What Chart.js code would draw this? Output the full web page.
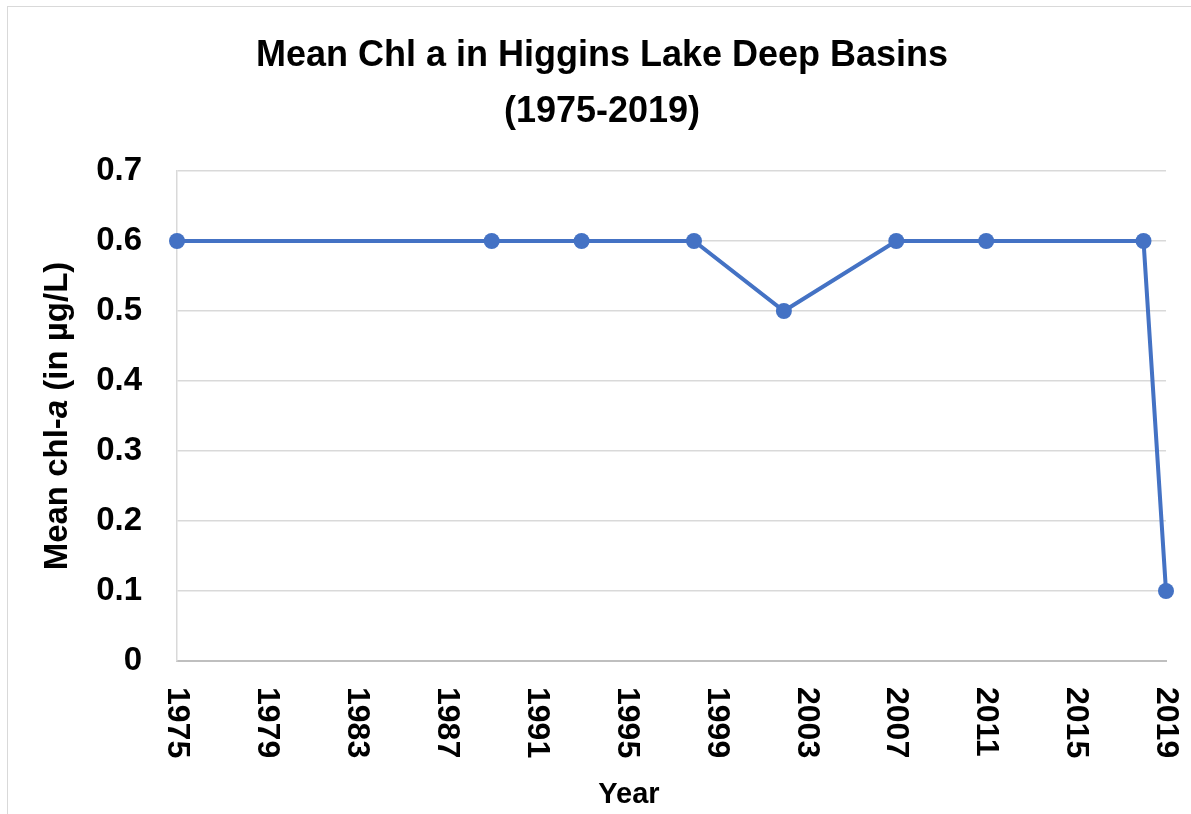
<!DOCTYPE html>
<html>
<head>
<meta charset="utf-8">
<title>Mean Chl a in Higgins Lake Deep Basins</title>
<script src="https://cdn.jsdelivr.net/npm/chart.js@4.4.1/dist/chart.umd.min.js"></script>
<style>
  html, body { margin: 0; padding: 0; background: #fff; overflow: hidden; }
  #frame {
    position: absolute; left: 7px; top: 6px;
    border-left: 1px solid #d9d9d9; border-top: 1px solid #d9d9d9;
  }
  canvas { display: block; }
</style>
</head>
<body>
<div id="frame"><canvas id="chlChart" width="1188" height="810"></canvas></div>
<script>
// sampling years and mean chl-a (ug/L)
const years = [1975, 1989, 1993, 1998, 2002, 2007, 2011, 2018, 2019];
const chla = [0.6, 0.6, 0.6, 0.6, 0.5, 0.6, 0.6, 0.6, 0.1];

const titleLines = ["Mean Chl a in Higgins Lake Deep Basins", "(1975-2019)"];
const xTitle = "Year";
// y title has an italic "a", so it is kept in pieces
const yTitleParts = [
  { text: "Mean chl-", italic: false },
  { text: "a", italic: true },
  { text: " (in \u00b5g/L)", italic: false },
];

const FONT = "'Liberation Sans', Arial, sans-serif";
const BLUE = "#4472C4";
const GRID = "#d9d9d9";

// Excel style: x tick labels read top to bottom, plus the two axis titles
const axisText = {
  id: "axisText",
  afterDraw(chart) {
    const ctx = chart.ctx;
    const area = chart.chartArea;
    const xs = chart.scales.x;

    ctx.save();
    ctx.fillStyle = "#000";
    ctx.font = "bold 32px " + FONT;
    ctx.textAlign = "left";
    ctx.textBaseline = "middle";
    xs.ticks.forEach((t) => {
      const px = xs.getPixelForValue(t.value);
      ctx.save();
      ctx.translate(px, area.bottom + 26);
      ctx.rotate(Math.PI / 2);
      ctx.fillText(String(t.value), 0, 0);
      ctx.restore();
    });

    // x title
    ctx.font = "bold 29px " + FONT;
    ctx.textAlign = "center";
    ctx.textBaseline = "alphabetic";
    ctx.fillText(xTitle, 621, 796);

    // y title, rotated, centred on the plot area
    const fonts = yTitleParts.map((p) => (p.italic ? "italic bold 33px " : "bold 33px ") + FONT);
    let total = 0;
    const widths = yTitleParts.map((p, i) => {
      ctx.font = fonts[i];
      const w = ctx.measureText(p.text).width;
      total += w;
      return w;
    });
    ctx.translate(58.5, (area.top + area.bottom) / 2);
    ctx.rotate(-Math.PI / 2);
    ctx.textAlign = "left";
    let x = -total / 2;
    yTitleParts.forEach((p, i) => {
      ctx.font = fonts[i];
      ctx.fillText(p.text, x, 0);
      x += widths[i];
    });
    ctx.restore();
  },
};

new Chart(document.getElementById("chlChart"), {
  type: "line",
  data: {
    datasets: [
      {
        label: "Mean chl-a",
        data: years.map((y, i) => ({ x: y, y: chla[i] })),
        borderColor: BLUE,
        backgroundColor: BLUE,
        borderWidth: 4,
        pointRadius: 8,
        pointHoverRadius: 8,
        pointBorderWidth: 0,
        tension: 0,
        clip: false,
      },
    ],
  },
  options: {
    responsive: false,
    animation: false,
    // equal side padding keeps the title centred on the frame
    layout: { padding: { left: 30, right: 30, top: 0, bottom: 0 } },
    plugins: {
      legend: { display: false },
      tooltip: { enabled: false },
      title: {
        display: true,
        text: titleLines,
        color: "#000",
        font: { family: FONT, size: 36, weight: "bold", lineHeight: 56 / 36 },
        padding: { top: 21, bottom: 31 },
      },
    },
    scales: {
      x: {
        type: "linear",
        min: 1975,
        max: 2019,
        ticks: { stepSize: 4, display: false },
        grid: { display: false },
        border: { display: true, color: "#bfbfbf", width: 2 },
        afterFit(scale) {
          scale.height = 156;
        },
      },
      y: {
        min: 0,
        max: 0.7,
        ticks: {
          stepSize: 0.1,
          padding: 35,
          color: "#000",
          font: { family: FONT, size: 33, weight: "bold" },
          callback: (v) => (v === 0 ? "0" : v.toFixed(1)),
        },
        grid: { color: GRID, lineWidth: 1.5, drawTicks: false },
        border: { display: true, color: GRID, width: 1.5 },
        afterFit(scale) {
          scale.width = 139;
        },
      },
    },
  },
  plugins: [axisText],
});
</script>
</body>
</html>
